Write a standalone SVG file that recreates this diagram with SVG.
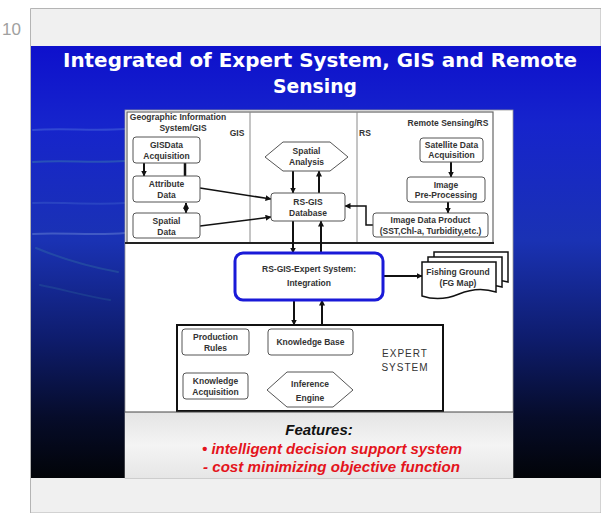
<svg xmlns="http://www.w3.org/2000/svg" width="601" height="513" viewBox="0 0 601 513">
  <defs>
    <linearGradient id="slideBg" x1="0" y1="46" x2="0" y2="478" gradientUnits="userSpaceOnUse">
      <stop offset="0" stop-color="#0e10cc"/>
      <stop offset="0.18" stop-color="#1624cc"/>
      <stop offset="0.45" stop-color="#1a32b4"/>
      <stop offset="0.68" stop-color="#0e1c6c"/>
      <stop offset="0.86" stop-color="#060c2a"/>
      <stop offset="1" stop-color="#020408"/>
    </linearGradient>
    <linearGradient id="featBg" x1="0" y1="412" x2="0" y2="478" gradientUnits="userSpaceOnUse">
      <stop offset="0" stop-color="#e4e4e4"/>
      <stop offset="0.5" stop-color="#f4f4f4"/>
      <stop offset="1" stop-color="#e6e6e6"/>
    </linearGradient>
    <marker id="ah" viewBox="0 0 6 6" refX="5.5" refY="3" markerWidth="6" markerHeight="6" markerUnits="userSpaceOnUse" orient="auto-start-reverse">
      <path d="M0,0 L6,3 L0,6 z" fill="#111"/>
    </marker>
    <style>
      .lbl { font-family: "Liberation Sans", Arial, sans-serif; font-size: 8.5px; font-weight: bold; fill: #333; text-anchor: middle; }
      .box { fill: #fff; stroke: #555; stroke-width: 1; }
      .arr { fill: none; stroke: #111; stroke-width: 2; marker-end: url(#ah); }
      .thin { fill: none; stroke: #111; stroke-width: 1.5; marker-end: url(#ah); }
      .div { stroke: #8a8a8a; stroke-width: 1; }
      .doc { fill: #fff; stroke: #111; stroke-width: 1.5; }
    </style>
  </defs>

  <!-- page -->
  <rect x="0" y="0" width="601" height="513" fill="#ffffff"/>
  <path d="M30.5,513 V8.5 H601 V513 Z" fill="#f0f0f0" stroke="#b4b4b4" stroke-width="1"/>
  <text x="2" y="35" font-family="Liberation Sans, Arial, sans-serif" font-size="17" fill="#a0a0a0">10</text>

  <!-- slide background -->
  <rect x="31" y="46" width="570" height="432" fill="url(#slideBg)"/>
  <g fill="none" stroke-linecap="round">
    <path d="M33,130 C60,128 95,131 125,129" stroke="#6f9ae8" stroke-opacity="0.3" stroke-width="2"/>
    <path d="M33,162 C60,160 95,163 125,161" stroke="#4fb0a0" stroke-opacity="0.3" stroke-width="2"/>
    <path d="M33,203 C60,202 95,205 125,203" stroke="#5a86d8" stroke-opacity="0.25" stroke-width="2"/>
    <path d="M33,234 C60,232 95,236 125,233" stroke="#9ab8e8" stroke-opacity="0.3" stroke-width="2"/>
    <path d="M36,248 C60,258 85,266 118,272" stroke="#4aa8a0" stroke-opacity="0.22" stroke-width="2"/>
    <path d="M40,285 C65,290 85,296 110,300" stroke="#3a90a0" stroke-opacity="0.2" stroke-width="2"/>
  </g>

  <!-- title -->
  <g font-family="'DejaVu Sans', 'Liberation Sans', sans-serif" font-weight="bold" font-size="20" fill="#ffffff" text-anchor="middle">
    <text x="320" y="67" textLength="514" lengthAdjust="spacingAndGlyphs">Integrated of Expert System, GIS and Remote</text>
    <text x="315" y="93" textLength="84" lengthAdjust="spacingAndGlyphs">Sensing</text>
  </g>

  <!-- white panel -->
  <rect x="125" y="110" width="388" height="368" fill="#ffffff" stroke="#9a9a9a" stroke-width="0.8"/>

  <!-- GIS / RS section frame -->
  <g id="gis-rs-frame">
    <rect x="127" y="112" width="366" height="131" fill="#fff" stroke="#666" stroke-width="1.2"/>
    <line x1="125" y1="243" x2="494" y2="243" stroke="#222" stroke-width="2"/>
    <line class="div" x1="250" y1="112" x2="250" y2="242"/>
    <line class="div" x1="357" y1="112" x2="357" y2="242"/>
    <text class="lbl" x="178" y="120" font-size="8">Geographic Information</text>
    <text class="lbl" x="183" y="131" font-size="8">System/GIS</text>
    <text class="lbl" x="237" y="136">GIS</text>
    <text class="lbl" x="365" y="136">RS</text>
    <text class="lbl" x="448" y="126" font-size="8">Remote Sensing/RS</text>
  </g>

  <!-- connectors -->
  <g id="connectors">
    <line class="arr" x1="144" y1="163" x2="144" y2="176"/>
    <line x1="185" y1="163" x2="185" y2="176" stroke="#111" stroke-width="2.5"/>
    <line class="arr" x1="186" y1="203" x2="186" y2="213" marker-start="url(#ah)"/>
    <line class="thin" x1="200" y1="188" x2="271" y2="199"/>
    <line class="thin" x1="200" y1="226" x2="271" y2="217"/>
    <line class="arr" x1="293" y1="171" x2="293" y2="193"/>
    <line class="arr" x1="319" y1="193" x2="319" y2="171"/>
    <line class="arr" x1="451" y1="162" x2="451" y2="177"/>
    <line class="arr" x1="448" y1="202" x2="448" y2="213"/>
    <path class="thin" d="M373,225 H366 V206 H345"/>
    <line class="arr" x1="293" y1="221" x2="293" y2="253"/>
    <line class="arr" x1="321" y1="253" x2="321" y2="221"/>
    <line class="arr" x1="383" y1="276" x2="422" y2="276"/>
    <line class="arr" x1="294" y1="300" x2="294" y2="325"/>
    <line class="arr" x1="322" y1="325" x2="322" y2="300"/>
    <line class="arr" x1="249" y1="341" x2="268" y2="341"/>
    <line class="arr" x1="215" y1="373" x2="215" y2="355"/>
    <line class="arr" x1="295" y1="355" x2="295" y2="372"/>
    <line class="arr" x1="323" y1="372" x2="323" y2="355"/>
  </g>

  <!-- GIS nodes -->
  <g id="gis-data-acquisition">
    <rect class="box" x="133" y="137" width="67" height="26" rx="3"/>
    <text class="lbl" x="166.5" y="148">GISData</text>
    <text class="lbl" x="166.5" y="159">Acquisition</text>
  </g>
  <g id="attribute-data">
    <rect class="box" x="133" y="176" width="67" height="26" rx="3"/>
    <text class="lbl" x="166.5" y="187">Attribute</text>
    <text class="lbl" x="166.5" y="198">Data</text>
  </g>
  <g id="spatial-data">
    <rect class="box" x="133" y="213" width="67" height="25" rx="3"/>
    <text class="lbl" x="166.5" y="224">Spatial</text>
    <text class="lbl" x="166.5" y="235">Data</text>
  </g>

  <!-- centre nodes -->
  <g id="spatial-analysis">
    <polygon class="box" points="265,157 283,142 330,142 348,157 330,171 283,171"/>
    <text class="lbl" x="306.5" y="154">Spatial</text>
    <text class="lbl" x="306.5" y="165">Analysis</text>
  </g>
  <g id="rs-gis-database">
    <rect class="box" x="271" y="193" width="74" height="28" rx="3"/>
    <text class="lbl" x="308" y="205">RS-GIS</text>
    <text class="lbl" x="308" y="216">Database</text>
  </g>

  <!-- RS nodes -->
  <g id="satellite-data-acquisition">
    <rect class="box" x="420" y="138" width="63" height="24" rx="3"/>
    <text class="lbl" x="451.5" y="148">Satellite Data</text>
    <text class="lbl" x="451.5" y="158">Acquisition</text>
  </g>
  <g id="image-pre-processing">
    <rect class="box" x="407" y="177" width="78" height="25" rx="3"/>
    <text class="lbl" x="446" y="188">Image</text>
    <text class="lbl" x="446" y="198">Pre-Processing</text>
  </g>
  <g id="image-data-product">
    <rect class="box" x="373" y="213" width="115" height="24" rx="3"/>
    <text class="lbl" x="430.5" y="223">Image Data Product</text>
    <text class="lbl" x="430.5" y="234">(SST,Chl-a, Turbidity,etc.)</text>
  </g>

  <!-- integration -->
  <g id="integration">
    <rect x="235" y="253" width="148" height="47" rx="8" fill="#fff" stroke="#1a1ad8" stroke-width="3"/>
    <text class="lbl" x="309" y="272" font-size="10.5">RS-GIS-Expert System:</text>
    <text class="lbl" x="309" y="286" font-size="10.5">Integration</text>
  </g>

  <g id="fishing-ground">
    <path class="doc" d="M434,252 H508 V282 Q496,278 486,284 L434,284 Z"/>
    <path class="doc" d="M428,257 H502 V287 Q490,283 480,289 L428,289 Z"/>
    <path class="doc" d="M422,262 H496 V292 Q478,286 459,294 Q440,302 422,296 Z"/>
    <text class="lbl" x="458" y="275" font-size="8">Fishing Ground</text>
    <text class="lbl" x="458" y="286" font-size="8">(FG Map)</text>
  </g>

  <!-- expert system -->
  <g id="expert-system">
    <rect x="177" y="325" width="266" height="86" fill="#fff" stroke="#111" stroke-width="2"/>
    <text x="405" y="357" font-family="Liberation Sans, Arial, sans-serif" font-size="10" letter-spacing="1" fill="#333" text-anchor="middle">EXPERT</text>
    <text x="405" y="371" font-family="Liberation Sans, Arial, sans-serif" font-size="10" letter-spacing="1" fill="#333" text-anchor="middle">SYSTEM</text>
  </g>
  <g id="production-rules">
    <rect class="box" x="182" y="329" width="67" height="26" rx="3"/>
    <text class="lbl" x="215.5" y="340">Production</text>
    <text class="lbl" x="215.5" y="351">Rules</text>
  </g>
  <g id="knowledge-base">
    <rect class="box" x="268" y="329" width="85" height="26" rx="3"/>
    <text class="lbl" x="310.5" y="345">Knowledge Base</text>
  </g>
  <g id="knowledge-acquisition">
    <rect class="box" x="183" y="373" width="65" height="26" rx="3"/>
    <text class="lbl" x="215.5" y="384">Knowledge</text>
    <text class="lbl" x="215.5" y="395">Acquisition</text>
  </g>
  <g id="inference-engine">
    <polygon class="box" points="267,390 287,372 333,372 353,390 333,407 287,407"/>
    <text class="lbl" x="310" y="387">Inference</text>
    <text class="lbl" x="310" y="401">Engine</text>
  </g>

  <!-- features -->
  <g id="features">
    <rect x="125" y="412" width="388" height="66" fill="url(#featBg)"/>
    <line x1="125" y1="412" x2="513" y2="412" stroke="#444" stroke-width="1"/>
    <text x="319" y="435" font-family="Liberation Sans, Arial, sans-serif" font-size="15" font-weight="bold" font-style="italic" fill="#111" text-anchor="middle">Features:</text>
    <text x="202" y="454" font-family="Liberation Sans, Arial, sans-serif" font-size="14" font-weight="bold" font-style="italic" fill="#e4141c" textLength="260" lengthAdjust="spacingAndGlyphs">• intelligent decision support system</text>
    <text x="203" y="472" font-family="Liberation Sans, Arial, sans-serif" font-size="14" font-weight="bold" font-style="italic" fill="#e4141c" textLength="257" lengthAdjust="spacingAndGlyphs">- cost minimizing objective function</text>
  </g>
</svg>
